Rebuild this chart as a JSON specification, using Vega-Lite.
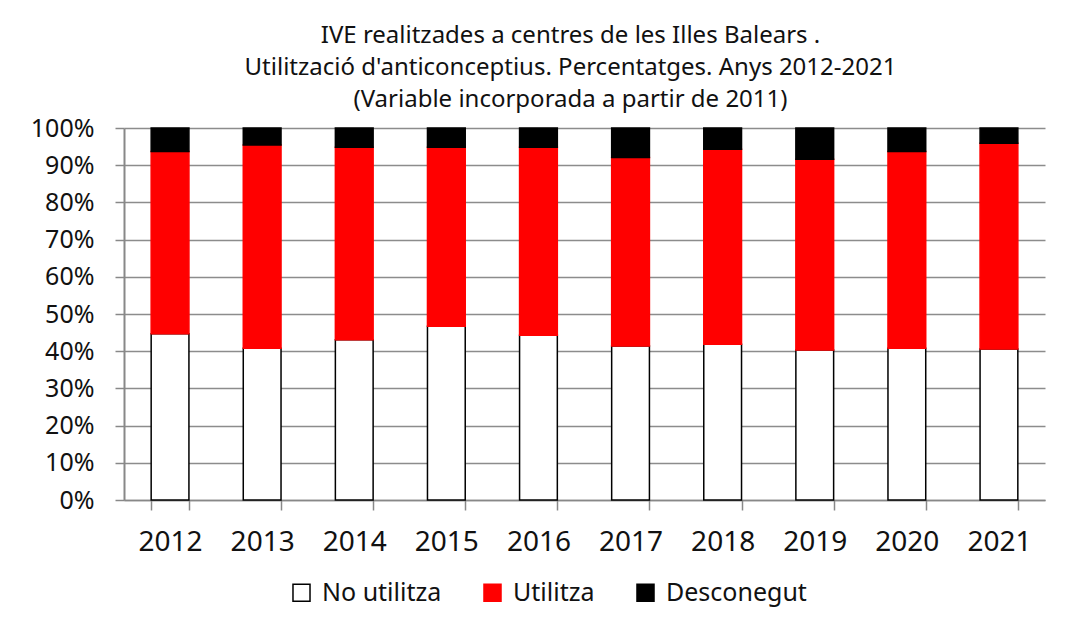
{
  "$schema": "https://vega.github.io/schema/vega-lite/v6.json",
  "width": 921,
  "height": 372,
  "autosize": {"type": "none"},
  "padding": {"left": 124, "top": 128, "right": 30, "bottom": 126},
  "background": "white",
  "title": {
    "text": ["IVE realitzades a centres de les Illes Balears .", "Utilització d'anticonceptius. Percentatges.  Anys 2012-2021", "(Variable incorporada  a partir de 2011)"],
    "font": "Noto Sans",
    "fontSize": 24,
    "fontWeight": "normal",
    "lineHeight": 32,
    "color": "#111111",
    "anchor": "middle",
    "dx": -14,
    "offset": 4
  },
  "data": {
    "values": [
      {"year": "2012", "cat": "No utilitza", "ord": 1, "v": 0.447},
      {"year": "2012", "cat": "Utilitza", "ord": 2, "v": 0.490},
      {"year": "2012", "cat": "Desconegut", "ord": 3, "v": 0.063},
      {"year": "2013", "cat": "No utilitza", "ord": 1, "v": 0.408},
      {"year": "2013", "cat": "Utilitza", "ord": 2, "v": 0.546},
      {"year": "2013", "cat": "Desconegut", "ord": 3, "v": 0.046},
      {"year": "2014", "cat": "No utilitza", "ord": 1, "v": 0.431},
      {"year": "2014", "cat": "Utilitza", "ord": 2, "v": 0.517},
      {"year": "2014", "cat": "Desconegut", "ord": 3, "v": 0.052},
      {"year": "2015", "cat": "No utilitza", "ord": 1, "v": 0.467},
      {"year": "2015", "cat": "Utilitza", "ord": 2, "v": 0.481},
      {"year": "2015", "cat": "Desconegut", "ord": 3, "v": 0.052},
      {"year": "2016", "cat": "No utilitza", "ord": 1, "v": 0.443},
      {"year": "2016", "cat": "Utilitza", "ord": 2, "v": 0.505},
      {"year": "2016", "cat": "Desconegut", "ord": 3, "v": 0.052},
      {"year": "2017", "cat": "No utilitza", "ord": 1, "v": 0.414},
      {"year": "2017", "cat": "Utilitza", "ord": 2, "v": 0.507},
      {"year": "2017", "cat": "Desconegut", "ord": 3, "v": 0.079},
      {"year": "2018", "cat": "No utilitza", "ord": 1, "v": 0.419},
      {"year": "2018", "cat": "Utilitza", "ord": 2, "v": 0.524},
      {"year": "2018", "cat": "Desconegut", "ord": 3, "v": 0.057},
      {"year": "2019", "cat": "No utilitza", "ord": 1, "v": 0.403},
      {"year": "2019", "cat": "Utilitza", "ord": 2, "v": 0.513},
      {"year": "2019", "cat": "Desconegut", "ord": 3, "v": 0.084},
      {"year": "2020", "cat": "No utilitza", "ord": 1, "v": 0.408},
      {"year": "2020", "cat": "Utilitza", "ord": 2, "v": 0.529},
      {"year": "2020", "cat": "Desconegut", "ord": 3, "v": 0.063},
      {"year": "2021", "cat": "No utilitza", "ord": 1, "v": 0.406},
      {"year": "2021", "cat": "Utilitza", "ord": 2, "v": 0.553},
      {"year": "2021", "cat": "Desconegut", "ord": 3, "v": 0.041}
    ]
  },
  "mark": {"type": "bar", "strokeWidth": 1.5},
  "encoding": {
    "x": {
      "field": "year",
      "type": "ordinal",
      "title": null,
      "scale": {"paddingInner": 0.59, "paddingOuter": 0.295},
      "axis": {
        "labelAngle": 0,
        "labelFont": "Noto Sans",
        "labelFontSize": 28,
        "labelColor": "#111111",
        "labelPadding": 18,
        "tickBand": "extent",
        "tickSize": 10,
        "tickColor": "#888888",
        "tickWidth": 1.5,
        "domainColor": "#888888",
        "domainWidth": 1.5,
        "grid": false
      }
    },
    "y": {
      "field": "v",
      "type": "quantitative",
      "stack": "zero",
      "title": null,
      "scale": {"domain": [0, 1], "nice": false},
      "axis": {
        "format": ".0%",
        "values": [0, 0.1, 0.2, 0.3, 0.4, 0.5, 0.6, 0.7, 0.8, 0.9, 1],
        "labelFont": "Noto Sans",
        "labelFontSize": 25,
        "labelColor": "#111111",
        "labelPadding": 21,
        "tickSize": 9,
        "tickColor": "#888888",
        "tickWidth": 1.5,
        "domainColor": "#888888",
        "domainWidth": 2,
        "grid": true,
        "gridColor": "#8c8c8c",
        "gridWidth": 1.5
      }
    },
    "order": {"field": "ord", "type": "quantitative"},
    "fill": {
      "field": "cat",
      "type": "nominal",
      "title": null,
      "scale": {"domain": ["No utilitza", "Utilitza", "Desconegut"], "range": ["#ffffff", "#ff0000", "#000000"]},
      "legend": {
        "orient": "none",
        "legendX": 165,
        "legendY": 452,
        "direction": "horizontal",
        "symbolType": "square",
        "symbolSize": 290,
        "symbolStrokeWidth": 1.5,
        "labelFont": "Noto Sans",
        "labelFontSize": 25,
        "labelColor": "#111111",
        "labelOffset": 8,
        "columnPadding": 38
      }
    },
    "stroke": {
      "field": "cat",
      "type": "nominal",
      "title": null,
      "scale": {"domain": ["No utilitza", "Utilitza", "Desconegut"], "range": ["#000000", "#ff0000", "#000000"]}
    }
  },
  "config": {
    "view": {"stroke": null},
    "legend": {"symbolOpacity": 1}
  }
}
